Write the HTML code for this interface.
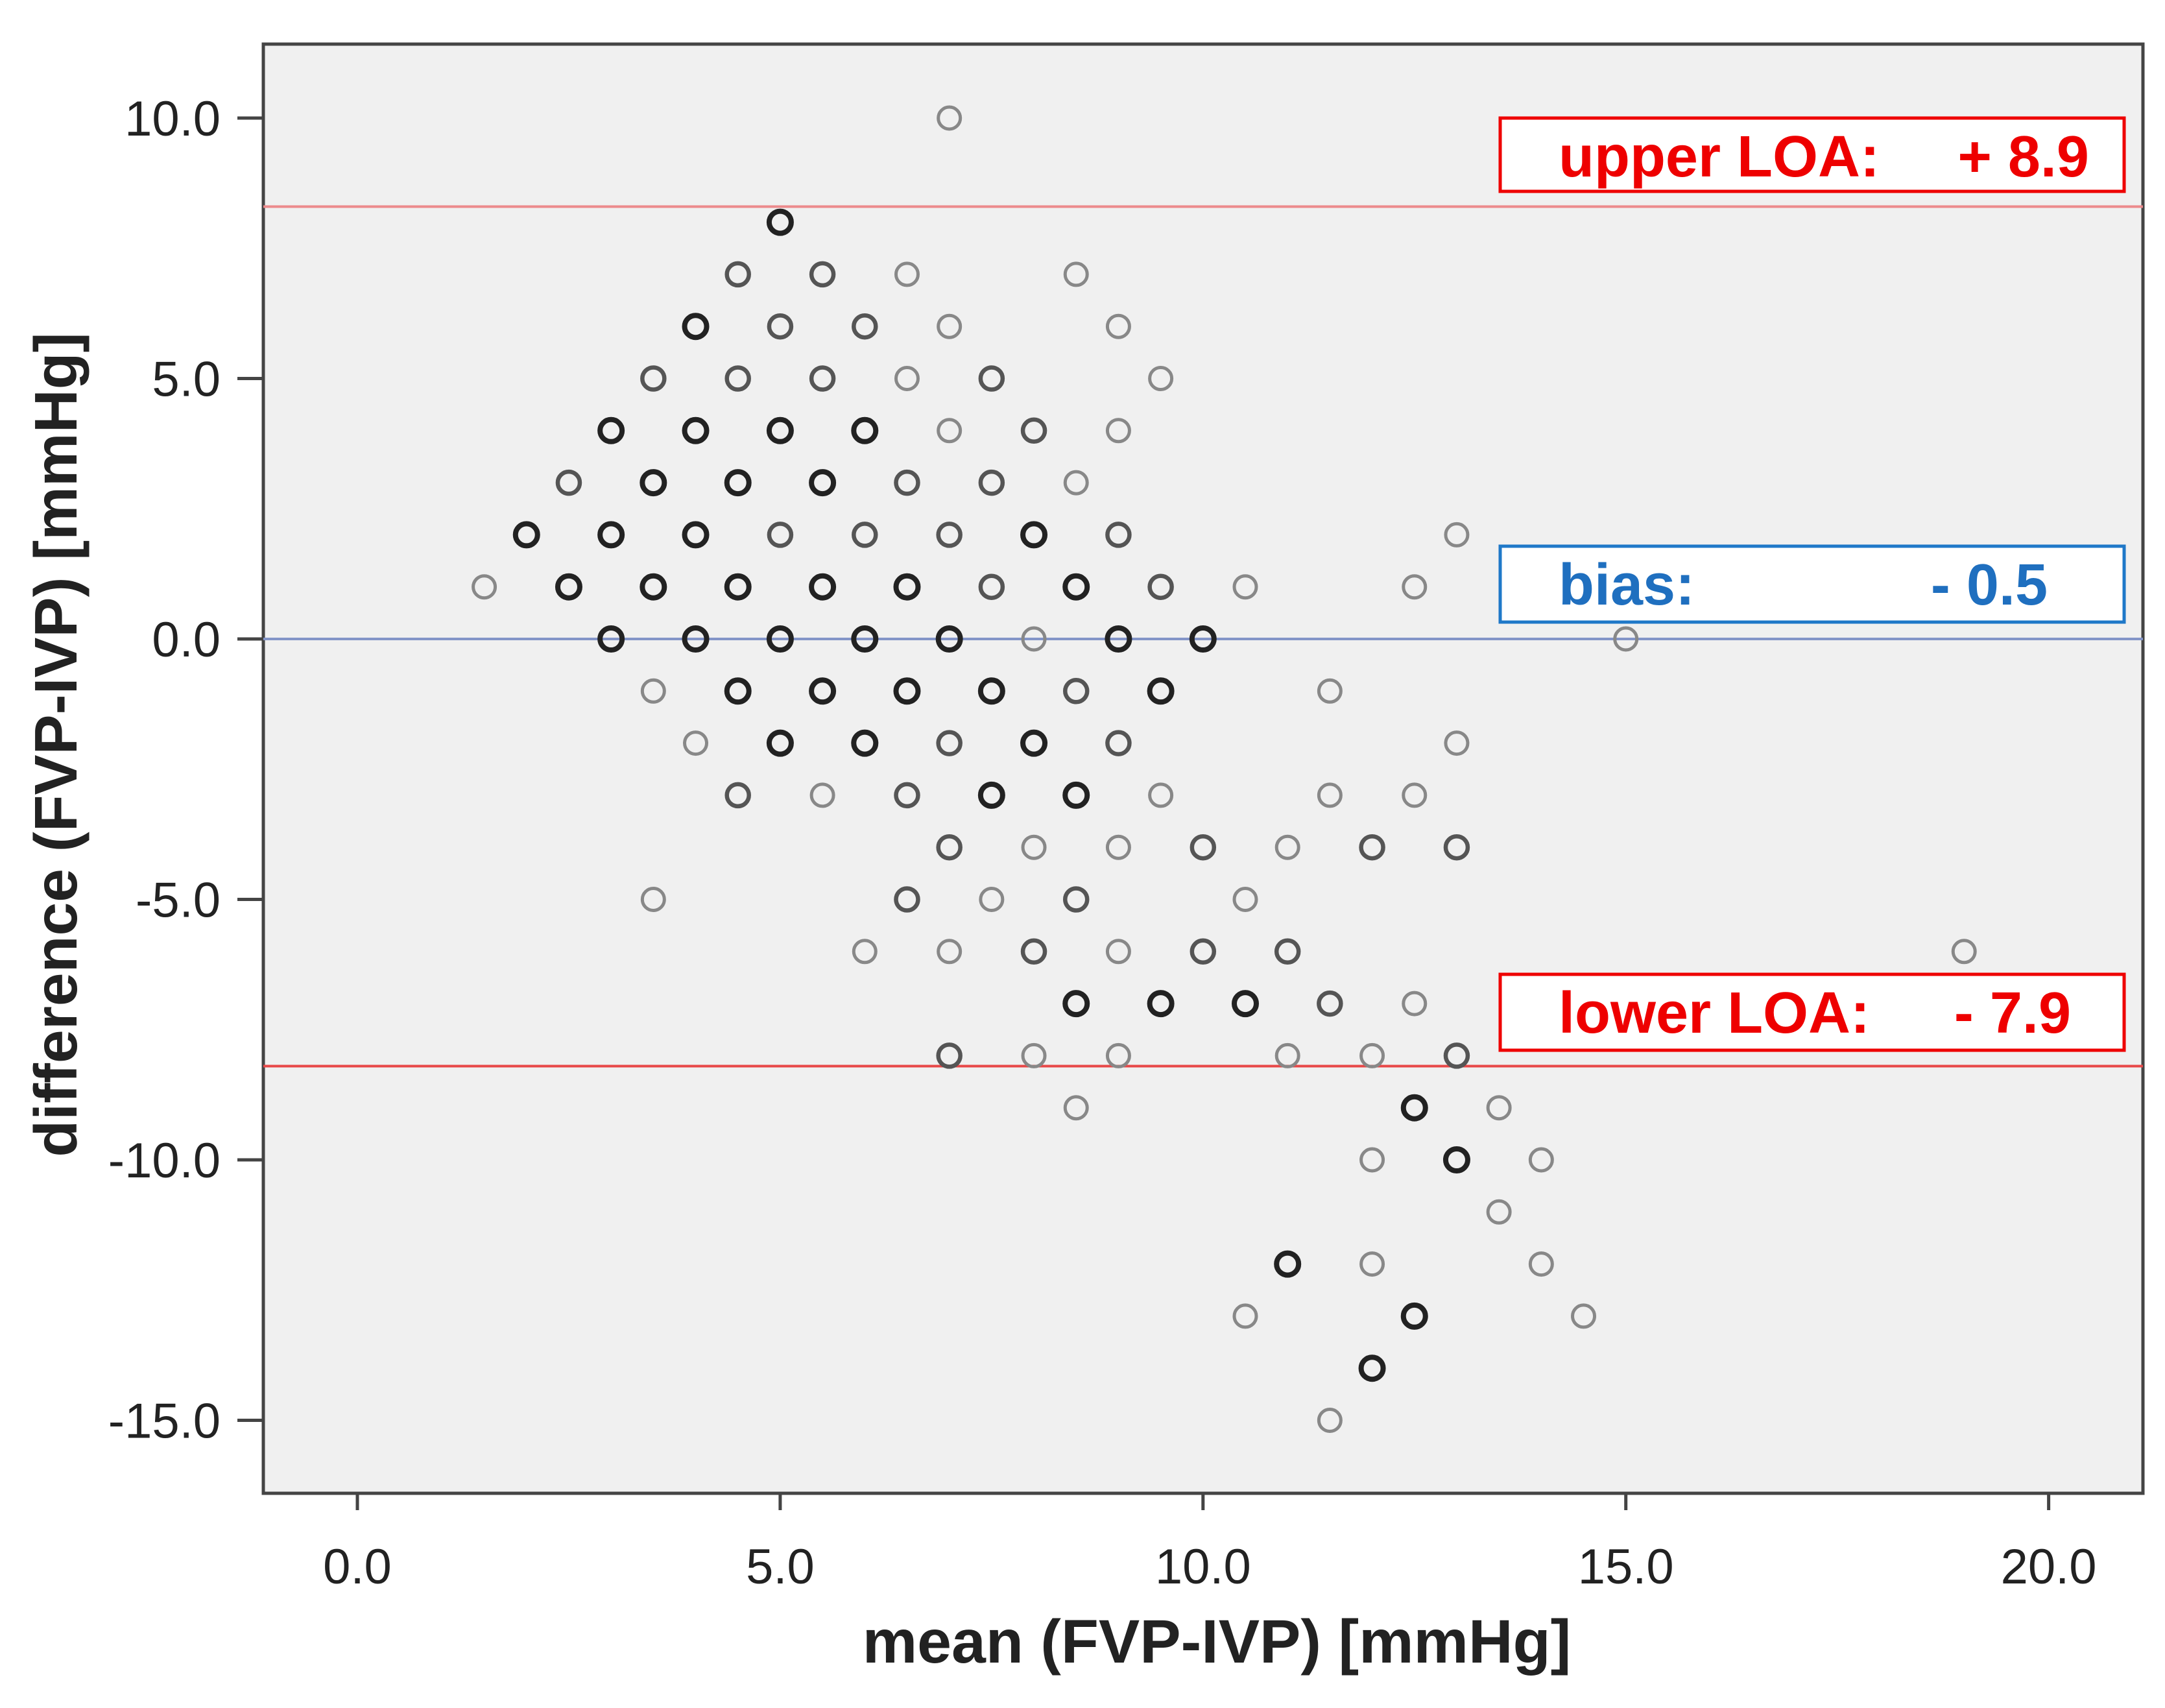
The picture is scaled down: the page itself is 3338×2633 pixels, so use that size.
<!DOCTYPE html>
<html><head><meta charset="utf-8"><style>
html,body{margin:0;padding:0;background:#fff;}
svg{display:block;font-family:"Liberation Sans",sans-serif;}
</style></head><body>
<svg id="chart" width="3338" height="2633" viewBox="0 0 3338 2633" xmlns="http://www.w3.org/2000/svg">
<rect x="406" y="68" width="2898" height="2234" fill="#f0f0f0" stroke="#444" stroke-width="5"/>
<g id="grid"></g>
<g id="points"></g>
<g id="axes"></g>
<text x="1876" y="2563" font-size="95" font-weight="bold" text-anchor="middle" fill="#222">mean (FVP-IVP) [mmHg]</text>
<text x="0" y="0" transform="translate(118,1148) rotate(-90)" font-size="93" font-weight="bold" text-anchor="middle" fill="#222">difference (FVP-IVP) [mmHg]</text>
<g>
<rect x="2313" y="182" width="962" height="113" fill="#fff" stroke="#e00" stroke-width="5"/>
<text x="2403" y="272" font-size="90" font-weight="bold" fill="#e00">upper LOA:</text>
<text x="3221" y="272" font-size="90" font-weight="bold" fill="#e00" text-anchor="end">+ 8.9</text>
</g>
<g>
<rect x="2313" y="842" width="962" height="117" fill="#fff" stroke="#1f78c8" stroke-width="5"/>
<text x="2403" y="932" font-size="90" font-weight="bold" fill="#1f6fbf">bias:</text>
<text x="3157" y="932" font-size="90" font-weight="bold" fill="#1f6fbf" text-anchor="end">- 0.5</text>
</g>
<g>
<rect x="2313" y="1502" width="962" height="117" fill="#fff" stroke="#e00" stroke-width="5"/>
<text x="2403" y="1592" font-size="90" font-weight="bold" fill="#e00">lower LOA:</text>
<text x="3193" y="1592" font-size="90" font-weight="bold" fill="#e00" text-anchor="end">- 7.9</text>
</g>
</svg>
<script>
const xTicks = [0, 5, 10, 15, 20];
const yTicks = [10, 5, 0, -5, -10, -15];
const xTickLabels = ["0.0", "5.0", "10.0", "15.0", "20.0"];
const yTickLabels = ["10.0", "5.0", "0.0", "-5.0", "-10.0", "-15.0"];
const upperLOA = 8.3;
const biasVal = 0.0;
const lowerLOA = -8.2;
const meanVals = [
7,
5,
4.5,5.5,6.5,8.5,
4,5,6,7,9,
3.5,4.5,5.5,6.5,7.5,9.5,
3,4,5,6,7,8,9,
2.5,3.5,4.5,5.5,6.5,7.5,8.5,
2,3,4,5,6,7,8,9,13,
1.5,2.5,3.5,4.5,5.5,6.5,7.5,8.5,9.5,10.5,12.5,
3,4,5,6,7,8,9,10,15,
3.5,4.5,5.5,6.5,7.5,8.5,9.5,11.5,
4,5,6,7,8,9,13,
4.5,5.5,6.5,7.5,8.5,9.5,11.5,12.5,
7,8,9,10,11,12,13,
3.5,6.5,7.5,8.5,10.5,
6,7,8,9,10,11,19,
8.5,9.5,10.5,11.5,12.5,
7,8,9,11,12,13,
8.5,12.5,13.5,
12,13,14,
13.5,
11,12,14,
10.5,12.5,14.5,
12,
11.5];
const diffVals = [
10,
8,
7,7,7,7,
6,6,6,6,6,
5,5,5,5,5,5,
4,4,4,4,4,4,4,
3,3,3,3,3,3,3,
2,2,2,2,2,2,2,2,2,
1,1,1,1,1,1,1,1,1,1,1,
0,0,0,0,0,0,0,0,0,
-1,-1,-1,-1,-1,-1,-1,-1,
-2,-2,-2,-2,-2,-2,-2,
-3,-3,-3,-3,-3,-3,-3,-3,
-4,-4,-4,-4,-4,-4,-4,
-5,-5,-5,-5,-5,
-6,-6,-6,-6,-6,-6,-6,
-7,-7,-7,-7,-7,
-8,-8,-8,-8,-8,-8,
-9,-9,-9,
-10,-10,-10,
-11,
-12,-12,-12,
-13,-13,-13,
-14,
-15];
const counts = [
1,
3,
2,2,1,1,
3,2,2,1,1,
2,2,2,1,2,1,
3,3,3,3,1,2,1,
2,3,3,3,2,2,1,
3,3,3,2,2,2,3,2,1,
1,3,3,3,3,3,2,3,2,1,1,
3,3,3,3,3,1,3,3,1,
1,3,3,3,3,2,3,1,
1,3,3,2,3,2,1,
2,1,2,3,3,1,1,1,
2,1,1,2,1,2,2,
1,2,1,2,1,
1,1,2,1,2,2,1,
3,3,3,2,1,
2,1,1,1,1,2,
1,3,1,
1,3,1,
1,
3,1,1,
1,3,1,
3,
1];
const NS = "http://www.w3.org/2000/svg";
const X0 = 551, XS = 61.05 * 3338 / 1563;
const Y0 = 985, YS = 37.6 * 3338 / 1563;
const xs = v => X0 + v * XS;
const ys = v => Y0 - v * YS;
const L = 406, R = 3304, T = 68, B = 2302;
function mk(tag, attrs, parent) {
  const e = document.createElementNS(NS, tag);
  for (const k in attrs) e.setAttribute(k, attrs[k]);
  parent.appendChild(e);
  return e;
}
const grid = document.getElementById('grid');
const axes = document.getElementById('axes');
const pts = document.getElementById('points');
let ln = mk('line', {x1: L, x2: R, y1: ys(upperLOA), y2: ys(upperLOA), stroke: '#ec8a8c', 'stroke-width': 4}, grid);


ln = mk('line', {x1: L, x2: R, y1: ys(biasVal), y2: ys(biasVal), stroke: '#8395c8', 'stroke-width': 4}, grid);


ln = mk('line', {x1: L, x2: R, y1: ys(lowerLOA), y2: ys(lowerLOA), stroke: '#e84848', 'stroke-width': 4}, grid);


const cols = ['#888', '#555', '#222'];
const sw = [5, 6.5, 8];
for (let i = 0; i < meanVals.length; i++) {
  const c = mk('circle', {cx: xs(meanVals[i]), cy: ys(diffVals[i]), r: 17, fill: 'none', stroke: cols[counts[i]-1], 'stroke-width': sw[counts[i]-1]}, pts);
  
  
}
xTicks.forEach((v, i) => {
  const t = mk('line', {x1: xs(v), x2: xs(v), y1: B, y2: B + 26, stroke: '#444', 'stroke-width': 5}, axes);
  
  
  const tx = mk('text', {x: xs(v), y: 2441, 'font-size': 76, 'text-anchor': 'middle', fill: '#222'}, axes);
  tx.textContent = xTickLabels[i];
  
  
});
yTicks.forEach((v, i) => {
  const t = mk('line', {x1: L - 40, x2: L, y1: ys(v), y2: ys(v), stroke: '#444', 'stroke-width': 5}, axes);
  
  
  const tx = mk('text', {x: 340, y: ys(v) + 27, 'font-size': 76, 'text-anchor': 'end', fill: '#222'}, axes);
  tx.textContent = yTickLabels[i];
  
  
});
</script>
</body></html>
